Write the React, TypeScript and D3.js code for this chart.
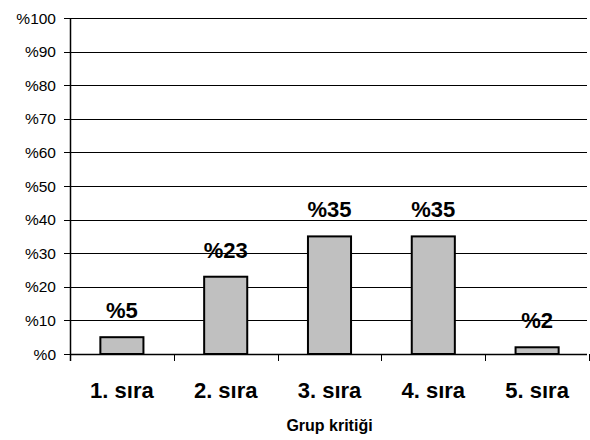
import React from "react";
import * as d3 from "d3";

const categories = ["1. sıra", "2. sıra", "3. sıra", "4. sıra", "5. sıra"];
const values = [5, 23, 35, 35, 2];
const yTicks = [0, 10, 20, 30, 40, 50, 60, 70, 80, 90, 100];
const axisTitle = "Grup kritiği";

export default function App() {
  const W = 590, H = 440;
  const left = 70, right = 589, top = 18, bottom = 354;
  const x = d3.scaleBand<string>().domain(categories).range([left, right]).paddingInner(0).paddingOuter(0);
  const y = d3.scaleLinear().domain([0, 100]).range([bottom, top]);
  const bw = x.bandwidth();
  const barW = bw * 0.415;
  const font = "Liberation Sans, Arial, sans-serif";
  const boundaries = categories.map((c) => x(c)!).concat([right]);
  return (
    <svg width={W} height={H} style={{ position: "absolute", left: 0, top: 0 }}>
      <rect x={0} y={0} width={W} height={H} fill="#fff" />
      {yTicks.map((t) => (
        <g key={t}>
          <line x1={left - 6} x2={right - 2} y1={Math.round(y(t)) + 0.5} y2={Math.round(y(t)) + 0.5} stroke="#000" strokeWidth={1} />
          <text x={56} y={y(t) + 5.5} textAnchor="end" fontFamily={font} fontSize={15.5} fill="#000">
            {"%" + t}
          </text>
        </g>
      ))}
      <line x1={left + 0.5} x2={left + 0.5} y1={top} y2={bottom + 7} stroke="#000" strokeWidth={1.5} />
      <line x1={left} x2={right - 2} y1={bottom + 0.5} y2={bottom + 0.5} stroke="#000" strokeWidth={1.5} />
      {boundaries.slice(1).map((b, i) => (
        <line key={i} x1={Math.round(b) + 0.5} x2={Math.round(b) + 0.5} y1={bottom} y2={bottom + 7} stroke="#000" strokeWidth={1} />
      ))}
      {categories.map((c, i) => {
        const cx = x(c)! + bw / 2;
        const yt = y(values[i]);
        return (
          <g key={c}>
            <rect x={cx - barW / 2} y={yt} width={barW} height={bottom - yt} fill="#C0C0C0" stroke="#000" strokeWidth={2} />
            <text x={cx} y={yt - 19} textAnchor="middle" fontFamily={font} fontWeight="bold" fontSize={22} fill="#000">
              {"%" + values[i]}
            </text>
            <text x={cx} y={398} textAnchor="middle" fontFamily={font} fontWeight="bold" fontSize={22} fill="#000">
              {c}
            </text>
          </g>
        );
      })}
      <text x={329.5} y={431} textAnchor="middle" fontFamily={font} fontWeight="bold" fontSize={16} fill="#000">
        {axisTitle}
      </text>
    </svg>
  );
}
